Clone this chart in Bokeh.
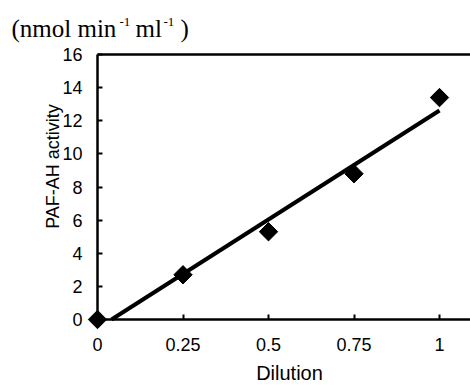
import numpy as np
from bokeh.plotting import figure
from bokeh.models import Range1d, FixedTicker, Label
from bokeh.embed import file_html
from bokeh.resources import INLINE

# ---- data ----
dilution = [0, 0.25, 0.5, 0.75, 1.0]
activity = [0, 2.7, 5.3, 8.8, 13.4]
x_ticks = [0, 0.25, 0.5, 0.75, 1]
x_tick_labels = ["0", "0.25", "0.5", "0.75", "1"]
y_ticks = [0, 2, 4, 6, 8, 10, 12, 14, 16]
x_label = "Dilution"
y_label = "PAF-AH activity"

# linear regression line, drawn from its x-intercept to the last dilution
slope, intercept = np.polyfit(dilution, activity, 1)
fit_x = [-intercept / slope, max(dilution)]
fit_y = [slope * v + intercept for v in fit_x]

# ---- layout (pixels) ----
W, H = 470, 385
X0_PX, X1_PX = 97, 439      # pixel of x=0 and x=1
Y0_PX, YT_PX = 319, 54      # pixel of y=0 and y=top tick

def dx(px):
    return (px - X0_PX) / (X1_PX - X0_PX)

def dy(py):
    return (Y0_PX - py) / (Y0_PX - YT_PX) * max(y_ticks)

x_range = Range1d(dx(0), dx(W))
y_range = Range1d(dy(H), dy(0))

p = figure(width=W, height=H, min_border=0,
           x_range=x_range, y_range=y_range,
           output_backend="svg", toolbar_location=None)
p.outline_line_color = None
p.xgrid.visible = False
p.ygrid.visible = False
p.background_fill_color = "white"
p.border_fill_color = "white"

for ax in (p.xaxis[0], p.yaxis[0]):
    ax.fixed_location = 0
    ax.axis_line_width = 2.5
    ax.axis_line_color = "black"
    ax.major_tick_in = 5
    ax.major_tick_out = 0
    ax.major_tick_line_width = 2
    ax.major_tick_line_color = "black"
    ax.minor_tick_line_color = None
    ax.major_label_text_font = "Liberation Sans"
    ax.major_label_text_font_size = "18px"
    ax.major_label_text_color = "black"

p.xaxis[0].ticker = FixedTicker(ticks=x_ticks)
p.xaxis[0].major_label_overrides = {t: l for t, l in zip(x_ticks, x_tick_labels)}
p.xaxis[0].major_label_standoff = 18
p.xaxis[0].bounds = (0, x_range.end)
p.yaxis[0].ticker = FixedTicker(ticks=y_ticks)
p.yaxis[0].major_label_standoff = 15
p.yaxis[0].bounds = (0, max(y_ticks))

# top border of the plot box
p.line([0, x_range.end], [max(y_ticks)] * 2, line_width=2.5, color="black")

p.line(fit_x, fit_y, line_width=4, color="black", line_cap="butt")
p.scatter(dilution, activity, marker="square", angle=np.pi / 4, size=13,
          color="black")

def lab(text, px, py, size, font, **kw):
    p.add_layout(Label(text=text, x=dx(px), y=dy(py),
                       text_font=font, text_font_size=size,
                       text_color="black", text_baseline="middle", **kw))

lab(y_label, 52, 166, "18px", "Liberation Sans", angle=np.pi / 2,
    text_align="center")
lab(x_label, 289, 372, "20px", "Liberation Sans", text_align="center")

# unit title with superscripts
lab("(nmol min", 11, 28, "25px", "Liberation Serif")
lab("-1", 119, 21, "13px", "Liberation Serif")
lab("ml", 135, 28, "25px", "Liberation Serif")
lab("-1", 163, 21, "13px", "Liberation Serif")
lab(")", 180, 28, "25px", "Liberation Serif")

open("out.html", "w").write(file_html(p, INLINE))
